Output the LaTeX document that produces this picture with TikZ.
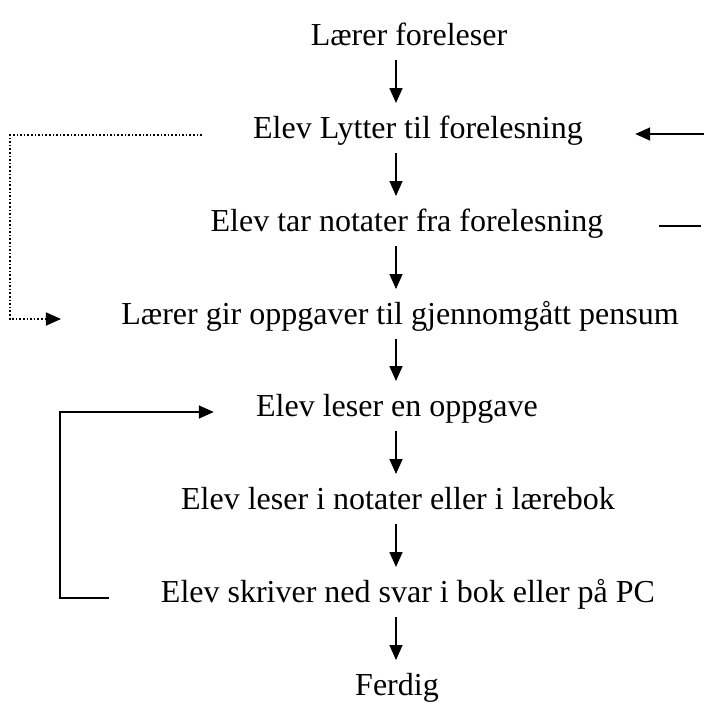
\documentclass[tikz,border=0pt]{standalone}
\usepackage{fontspec}
\setmainfont{Liberation Serif}
\usetikzlibrary{arrows.meta,calc}
\begin{document}
\begin{tikzpicture}[x=0.5pt,y=-0.5pt,
  step label/.style={inner sep=0pt,anchor=base,font=\fontsize{16}{19}\selectfont},
  flow/.style={line width=0.85pt,-{Triangle[width=6.5pt,length=7.5pt]}},
  plain line/.style={line width=0.85pt},
  dotted link/.style={line width=0.8pt,densely dotted},
  dotted arrow/.style={dotted link,-{Triangle[width=6.5pt,length=7.5pt]}}]
  % page frame
  \path[use as bounding box,fill=white] (0,0) rectangle (704,719);

  % the steps, top to bottom
  \node[step label] (t1) at (409,45)  {Lærer foreleser};
  \node[step label] (t2) at (418,138) {Elev Lytter til forelesning};
  \node[step label] (t3) at (407,231) {Elev tar notater fra forelesning};
  \node[step label] (t4) at (400,324) {Lærer gir oppgaver til gjennomgått pensum};
  \node[step label] (t5) at (397,416) {Elev leser en oppgave};
  \node[step label] (t6) at (398,509) {Elev leser i notater eller i lærebok};
  \node[step label] (t7) at (408,602) {Elev skriver ned svar i bok eller på PC};
  \node[step label] (t8) at (397,695) {Ferdig};

  % column of the downward arrows
  \coordinate (colx) at (396,0);
  \foreach \a/\b in {t1/t2,t2/t3,t3/t4,t4/t5,t5/t6,t6/t7,t7/t8}
    \draw[flow] ($(\a.base -| colx)+(0,15)$) -- ($(\b.base -| colx)+(0,-35)$);

  % arrow coming in from the right edge
  \coordinate (rin)  at ($(t2.base east)+(121,-4)$);
  \coordinate (rtip) at ($(t2.base east)+(52,-4)$);
  \draw[flow] (rin) -- (rtip);

  % line leaving to the right edge
  \coordinate (rout) at ($(t3.base east)+(55,-5)$);
  \coordinate (redge) at ($(t3.base east)+(97,-5)$);
  \draw[plain line] (rout) -- (redge);

  % dotted link round the left side
  \coordinate (d0) at ($(t2.base west)+(-51,-3)$);
  \coordinate (d3) at ($(t4.base west)+(-60,-5)$);
  \draw[dotted arrow] (d0) -- (10,0 |- d0) -- (10,0 |- d3) -- (d3);

  % loop back from writing the answer to reading the next task
  \coordinate (l0) at ($(t7.base west)+(-52,-4)$);
  \coordinate (l3) at ($(t5.base west)+(-42,-4)$);
  \draw[flow] (l0) -- (60,0 |- l0) -- (60,0 |- l3) -- (l3);
\end{tikzpicture}
\end{document}
